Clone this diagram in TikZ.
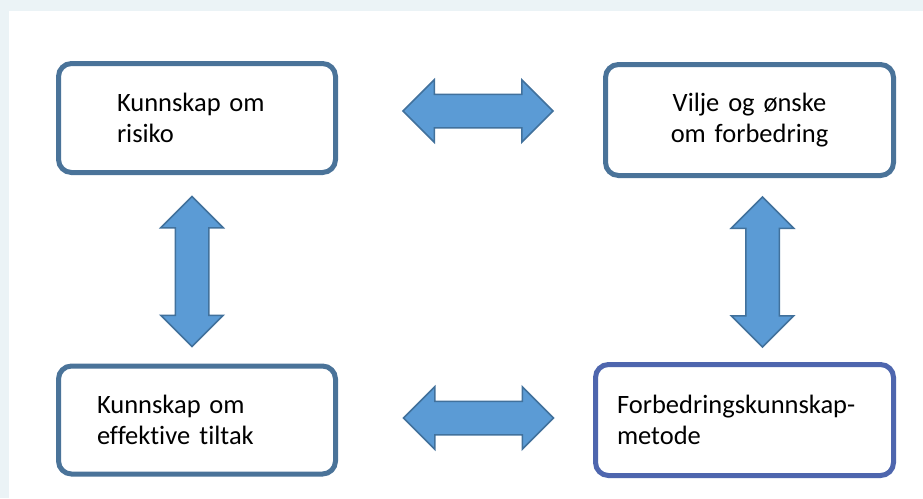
\documentclass[tikz,border=0pt]{standalone}
\usepackage{fontspec}
\setmainfont{Carlito}[Ligatures=NoCommon]
\usepackage{tikz}
\usetikzlibrary{shapes.arrows}
\definecolor{bggray}{HTML}{EBF3F6}
\definecolor{boxblue}{HTML}{4A7399}
\definecolor{boxpurple}{HTML}{4E66AE}
\definecolor{arrowfill}{HTML}{5B9BD5}
\definecolor{arrowline}{HTML}{41719C}
\newcommand{\boksfont}{\fontsize{26.5}{31}\selectfont\hyphenpenalty=10000\relax}
\tikzstyle{boks}=[draw=boxblue, line width=5pt, rounded corners=13pt, fill=white, inner ysep=0pt, align=left, font=\boksfont]
\tikzstyle{pil}=[double arrow, draw=arrowline, fill=arrowfill, line width=1.5pt, inner xsep=0pt, inner ysep=16pt, double arrow head extend=14.5pt, minimum height=150pt]

\begin{document}
\begin{tikzpicture}[x=1pt, y=-1pt]
			\useasboundingbox (0,0) rectangle (923,498);
			\fill[bggray] (0,0) rectangle (923,498);
			\fill[white] (9,11) rectangle (923,498);
			\node[boks, minimum width=277pt, minimum height=109pt, inner xsep=58.5pt, text width=160pt] (risiko) at (197,118) {Kunnskap om\\risiko};
			\node[boks, minimum width=288pt, minimum height=111pt, inner xsep=20pt, text width=248pt, align=center] (vilje) at (749.5,120) {Vilje og ønske\hspace*{0.35em}\\om forbedring};
			\node[boks, minimum width=277pt, minimum height=108pt, inner xsep=38.5pt, text width=200pt] (tiltak) at (197,420) {Kunnskap om\\effektive\hspace{0.35em}tiltak};
			\node[boks, draw=boxpurple, minimum width=298pt, minimum height=111pt, inner xsep=21.5pt, text width=255pt] (metode) at (744.5,420) {Forbedringskunnskap-\\metode};
			\node[pil] (p1) at (478,111) {};
			\node[pil] (p2) at (478.5,418) {};
			\node[pil, rotate=90] (p3) at (192,271.5) {};
			\node[pil, rotate=90] (p4) at (762.5,272) {};
		\end{tikzpicture}
\end{document}
